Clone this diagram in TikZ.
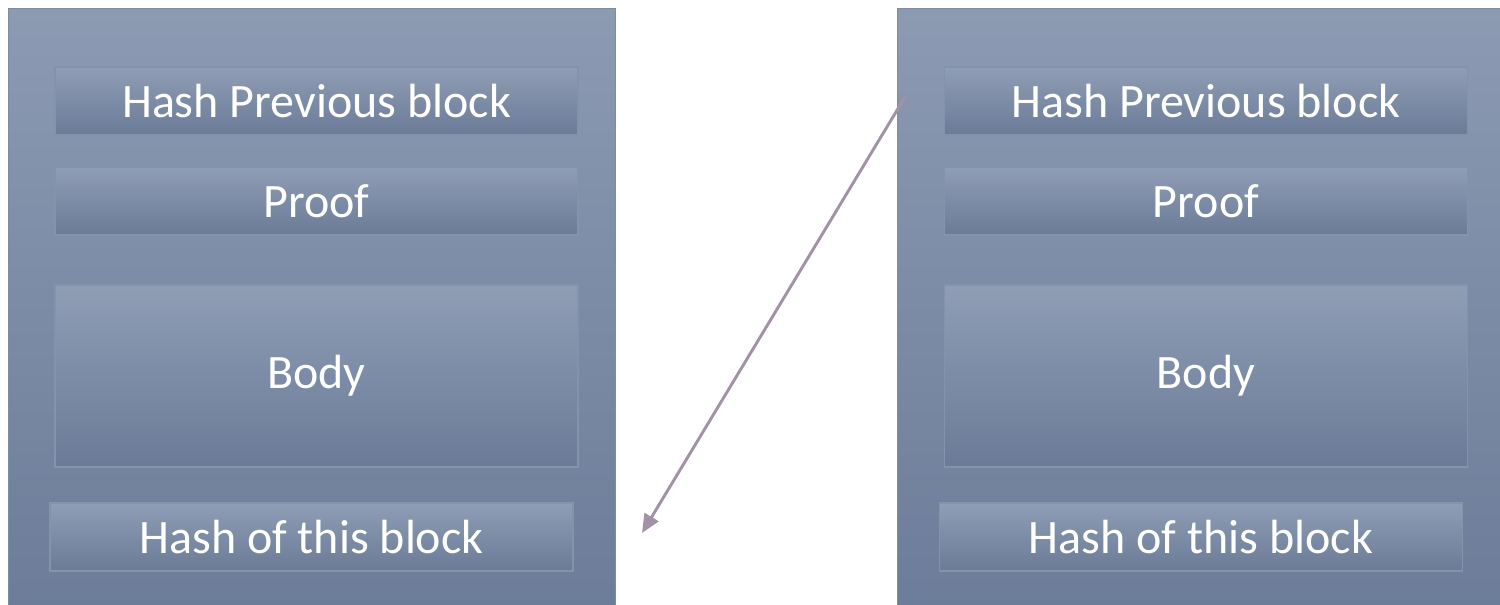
\documentclass[tikz,border=0pt]{standalone}
\usepackage{fontspec}
\setmainfont{Carlito}
\usetikzlibrary{arrows.meta}
\definecolor{outertop}{HTML}{8C9AB2}
\definecolor{outerbot}{HTML}{6C7D99}
\definecolor{fieldtop}{HTML}{8F9DB5}
\definecolor{fieldbot}{HTML}{6B7B97}
\definecolor{fieldedge}{HTML}{8493AC}
\definecolor{linkcol}{HTML}{A193A5}
\tikzset{
  blockbox/.style={draw=outertop!90!black, line width=0.6pt, top color=outertop, bottom color=outerbot,
    minimum width=607*0.75pt, minimum height=600*0.75pt, inner sep=0pt, anchor=north west},
  field/.style={draw=fieldedge, line width=0.9pt, top color=fieldtop, bottom color=fieldbot,
    minimum width=523*0.75pt, inner sep=0pt, text=white, font=\fontsize{36pt}{40pt}\selectfont},
  hashfield/.style={field, minimum height=68*0.75pt},
  bodyfield/.style={field, minimum height=182*0.75pt},
  link/.style={draw=linkcol, line width=2.2pt, -{Triangle[length=14pt,width=12pt]}}
}
\begin{document}
\begin{tikzpicture}[x=0.75pt,y=-0.75pt]
  \useasboundingbox (0,0) rectangle (1500,604);
  \clip (0,0) rectangle (1500,604);
  % previous block
  \node[blockbox] (blockA) at (8,8) {};
  \node[hashfield] (prevA)  at (316.5,101) {Hash Previous block};
  \node[hashfield] (proofA) at (316.5,201) {Proof};
  \node[bodyfield] (bodyA)  at (316.5,376) {Body};
  \node[hashfield] (selfA)  at (311.5,537) {Hash of this block};
  % next block
  \node[blockbox] (blockB) at (897,8) {};
  \node[hashfield] (prevB)  at (1206,101) {Hash Previous block};
  \node[hashfield] (proofB) at (1206,201) {Proof};
  \node[bodyfield] (bodyB)  at (1206,376) {Body};
  \node[hashfield] (selfB)  at (1201,537) {Hash of this block};
  % back-reference from the next block to the hash of the previous one
  \coordinate (linkstart) at (905,97);
  \coordinate (linkend) at (642,533);
  \draw[link] (linkstart) -- (linkend);
\end{tikzpicture}
\end{document}
